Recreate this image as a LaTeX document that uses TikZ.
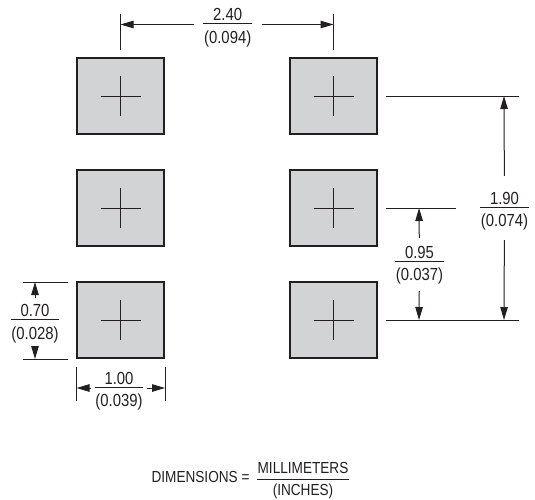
\documentclass[tikz,border=0pt]{standalone}
\usepackage{fontspec}
\usepackage{xcolor}
\usepackage{tikz}
\usetikzlibrary{arrows.meta, positioning}
\setmainfont[FakeStretch=0.85]{Liberation Sans}
\definecolor{padgray}{RGB}{209,211,212}
\definecolor{inkgray}{RGB}{35,31,32}
\newcommand{\fracbox}[4]{\renewcommand{\arraystretch}{0}\setlength{\arrayrulewidth}{1pt}\setlength{\tabcolsep}{0.8pt}\begin{tabular}{c}\rule[-#1]{0pt}{21pt}#3\\\hline\rule[-\dimexpr21pt-#2\relax]{0pt}{21pt}#4\end{tabular}}
\newcommand{\dimfrac}[2]{\fracbox{2.5pt}{18.7pt}{#1}{#2}}
\tikzset{
    pad/.style={draw=inkgray, line width=1.8pt, fill=padgray, minimum width=87.5pt, minimum height=76.5pt, inner sep=0pt},
    thin line/.style={draw=inkgray, line width=1pt},
    arrow line/.style={thin line, -{Triangle[length=13pt,width=7.5pt]}},
    dimtext/.style={inner sep=0pt, text=inkgray, font=\fontsize{17.5}{19}\selectfont},
    keytext/.style={inner sep=0pt, text=inkgray, font=\fontsize{16}{18}\selectfont}
}

\begin{document}
\begin{tikzpicture}[x=1pt, y=-1pt]
        \useasboundingbox (0, 0) rectangle (535, 499);

        % pads with their centre crosses
        \foreach \x/\col in {120.5/l, 333.5/r} {
            \foreach \y/\row in {96/a, 208/b, 320/c} {
                \node[pad] (pad\col\row) at (\x, \y) {};
                \draw[thin line] ([xshift=-20pt]pad\col\row.center) -- ([xshift=20pt]pad\col\row.center);
                \draw[thin line] ([yshift=-20pt]pad\col\row.center) -- ([yshift=20pt]pad\col\row.center);
            }
        }

        % 2.40 across the top
        \coordinate (t1) at (120.5, 14);
        \coordinate (t2) at (120.5, 50);
        \coordinate (t3) at (333.5, 14);
        \coordinate (t4) at (333.5, 50);
        \coordinate (ta) at (120.5, 24.5);
        \coordinate (tb) at (333.5, 24.5);
        \node[dimtext, minimum width=68pt] (top) at (227.7, 24.5) {\dimfrac{2.40}{(0.094)}};
        \draw[thin line] (t1) -- (t2);
        \draw[thin line] (t3) -- (t4);
        \draw[arrow line] (top) -- (ta);
        \draw[arrow line] (top) -- (tb);

        % 1.90 on the right
        \coordinate (u1) at (386, 96);
        \coordinate (u2) at (519, 96);
        \coordinate (u3) at (386, 320);
        \coordinate (u4) at (519, 320);
        \coordinate (ua) at (504, 96);
        \coordinate (ub) at (504, 320);
        \node[dimtext, minimum height=64pt] (far) at (504.5, 208) {\dimfrac{1.90}{(0.074)}};
        \draw[thin line] (u1) -- (u2);
        \draw[thin line] (u3) -- (u4);
        \draw[arrow line] (far) -- (ua);
        \draw[arrow line] (far) -- (ub);

        % 0.95 between the lower rows
        \coordinate (v1) at (386, 208);
        \coordinate (v2) at (456, 208);
        \coordinate (va) at (419, 208);
        \coordinate (vb) at (419, 320);
        \node[dimtext, minimum height=48pt] (near) at (419.5, 262) {\dimfrac{0.95}{(0.037)}};
        \draw[thin line] (v1) -- (v2);
        \draw[arrow line] (near) -- (va);
        \draw[arrow line, shorten <=5pt] (near) -- (vb);

        % 0.70 pad height
        \coordinate (w1) at (23, 282);
        \coordinate (w2) at (68, 282);
        \coordinate (w3) at (23, 359);
        \coordinate (w4) at (68, 359);
        \coordinate (wa) at (35, 282);
        \coordinate (wb) at (35, 359);
        \node[dimtext, minimum height=39pt] (tall) at (35, 320.5) {\dimfrac{0.70}{(0.028)}};
        \draw[thin line] (w1) -- (w2);
        \draw[thin line] (w3) -- (w4);
        \draw[arrow line] (tall) -- (wa);
        \draw[arrow line, shorten <=5pt] (tall) -- (wb);

        % 1.00 pad width
        \coordinate (z1) at (76.5, 367);
        \coordinate (z2) at (76.5, 401);
        \coordinate (z3) at (165, 367);
        \coordinate (z4) at (165, 401);
        \coordinate (za) at (76.5, 388);
        \coordinate (zb) at (165, 388);
        \node[dimtext, minimum width=55pt] (wide) at (119, 388) {\dimfrac{1.00}{(0.039)}};
        \draw[thin line] (z1) -- (z2);
        \draw[thin line] (z3) -- (z4);
        \draw[arrow line] (wide) -- (za);
        \draw[arrow line] (wide) -- (zb);

        % key at the bottom
        \node[keytext] (units) at (303, 479) {\fracbox{5pt}{16pt}{MILLIMETERS}{(INCHES)}};
        \node[keytext, left=7pt of units, yshift=2pt] (key) {DIMENSIONS =};
\end{tikzpicture}
\end{document}
